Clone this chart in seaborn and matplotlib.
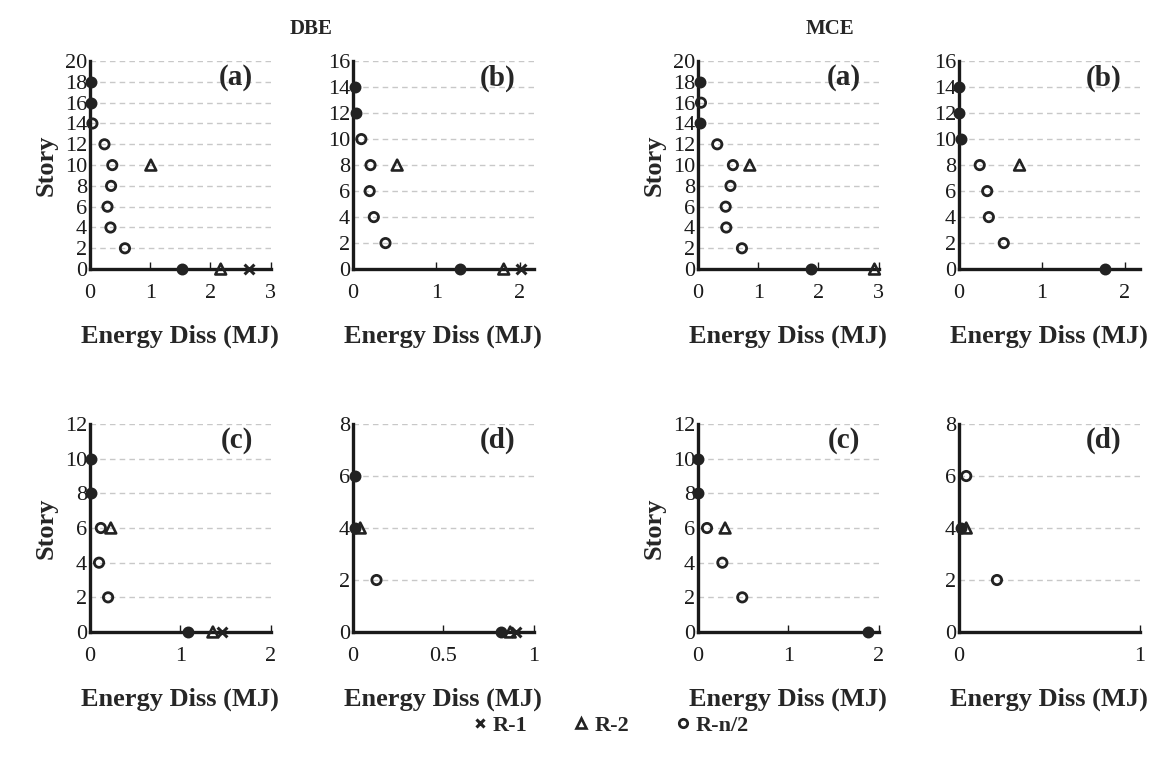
# ------------------
# Module imports
# ------------------
import matplotlib
matplotlib.use('Agg')
import matplotlib.pyplot as plt
from matplotlib.lines import Line2D
import pandas as pd
import seaborn as sns


# ------------------
# Constants
# ------------------
OUT_FILE = 'out.png'

SERIES = ['R-1', 'R-2', 'R-n/2']
PANEL_LABELS = ['(a)', '(b)', '(c)', '(d)']
GROUPS = ['DBE', 'MCE']

# DBE (a)
DBE_A_R1_STORY = [0]
DBE_A_R1 = [2.64]
DBE_A_R2_STORY = [10, 0]
DBE_A_R2 = [1.01, 2.17]
DBE_A_RN2_STORY = [18, 16, 14, 12, 10, 8, 6, 4, 2, 0]
DBE_A_RN2 = [0.02, 0.02, 0.04, 0.24, 0.37, 0.35, 0.29, 0.34, 0.58, 1.53]

# DBE (b)
DBE_B_R1_STORY = [0]
DBE_B_R1 = [2.02]
DBE_B_R2_STORY = [8, 0]
DBE_B_R2 = [0.53, 1.81]
DBE_B_RN2_STORY = [14, 12, 10, 8, 6, 4, 2, 0]
DBE_B_RN2 = [0.02, 0.03, 0.10, 0.21, 0.20, 0.25, 0.39, 1.28]

# DBE (c)
DBE_C_R1_STORY = [0]
DBE_C_R1 = [1.46]
DBE_C_R2_STORY = [6, 0]
DBE_C_R2 = [0.23, 1.36]
DBE_C_RN2_STORY = [10, 8, 6, 4, 2, 0]
DBE_C_RN2 = [0.01, 0.01, 0.12, 0.10, 0.20, 1.09]

# DBE (d)
DBE_D_R1_STORY = [0]
DBE_D_R1 = [0.90]
DBE_D_R2_STORY = [4, 0]
DBE_D_R2 = [0.04, 0.87]
DBE_D_RN2_STORY = [6, 4, 2, 0]
DBE_D_RN2 = [0.01, 0.01, 0.13, 0.82]

# MCE (a)
MCE_A_R1_STORY = []
MCE_A_R1 = []
MCE_A_R2_STORY = [10, 0]
MCE_A_R2 = [0.86, 2.93]
MCE_A_RN2_STORY = [18, 16, 14, 12, 10, 8, 6, 4, 2, 0]
MCE_A_RN2 = [0.03, 0.05, 0.03, 0.32, 0.58, 0.54, 0.46, 0.47, 0.73, 1.88]

# MCE (b)
MCE_B_R1_STORY = []
MCE_B_R1 = []
MCE_B_R2_STORY = [8]
MCE_B_R2 = [0.73]
MCE_B_RN2_STORY = [14, 12, 10, 8, 6, 4, 2, 0]
MCE_B_RN2 = [0.0, 0.0, 0.03, 0.25, 0.34, 0.36, 0.54, 1.76]

# MCE (c)
MCE_C_R1_STORY = []
MCE_C_R1 = []
MCE_C_R2_STORY = [6]
MCE_C_R2 = [0.30]
MCE_C_RN2_STORY = [10, 8, 6, 4, 2, 0]
MCE_C_RN2 = [0.0, 0.0, 0.10, 0.27, 0.49, 1.88]

# MCE (d)
MCE_D_R1_STORY = []
MCE_D_R1 = []
MCE_D_R2_STORY = [4]
MCE_D_R2 = [0.04]
MCE_D_RN2_STORY = [6, 4, 2]
MCE_D_RN2 = [0.04, 0.01, 0.21]

# axes positions [left, bottom, width, height]
COL_LEFT = [0.0782, 0.3067, 0.6064, 0.8332]
COL_WIDTH = 0.157
ROW_BOTTOM = [0.645, 0.1662]
ROW_HEIGHT = 0.2744

TICK_SIZE = 16
LABEL_SIZE = 19


# ------------------
# Functions
# ------------------
def make_df(r1, r1s, r2, r2s, rn, rns):
    """ long-form data for one panel """
    rows = []
    for name, xs, ys in zip(SERIES, [r1, r2, rn], [r1s, r2s, rns]):
        for x, y in zip(xs, ys):
            rows.append({'energy': x, 'story': y, 'series': name})
    return pd.DataFrame(rows, columns=['energy', 'story', 'series'])


def draw_panel(ax, df, axis, label, ylabel):
    ymax, xmax, xticks = axis

    # R-1
    d = df[df['series'] == 'R-1']
    if len(d):
        sns.scatterplot(data=d, x='energy', y='story', ax=ax, marker='x',
                        s=50, color='#222222', linewidth=2.2, clip_on=False, zorder=5)
    # R-2
    d = df[df['series'] == 'R-2']
    if len(d):
        sns.scatterplot(data=d, x='energy', y='story', ax=ax, marker='^',
                        s=60, facecolor='none', edgecolor='#222222', linewidth=1.9,
                        clip_on=False, zorder=5)
    # R-n/2 (points lying on an axis look filled)
    d = df[df['series'] == 'R-n/2']
    on_axis = (d['energy'] <= 0.035) | (d['story'] == 0)
    if on_axis.any():
        sns.scatterplot(data=d[on_axis], x='energy', y='story', ax=ax, marker='o',
                        s=50, color='#222222', edgecolor='#222222', linewidth=1.5,
                        clip_on=False, zorder=5)
    if (~on_axis).any():
        sns.scatterplot(data=d[~on_axis], x='energy', y='story', ax=ax, marker='o',
                        s=45, facecolor='none', edgecolor='#222222', linewidth=2.0,
                        clip_on=False, zorder=5)

    ax.set_xlim(0, xmax)
    ax.set_ylim(0, ymax)
    ax.set_xticks(xticks)
    ax.set_xticklabels([('%g' % t) for t in xticks])
    ax.set_yticks(range(0, ymax + 1, 2))

    ax.yaxis.grid(True, linestyle=(0, (4, 3)), color='#c8c8c8', linewidth=1.0)
    ax.xaxis.grid(False)
    ax.set_axisbelow(True)

    for s in ['top', 'right']:
        ax.spines[s].set_visible(False)
    for s in ['left', 'bottom']:
        ax.spines[s].set_linewidth(2.4)
        ax.spines[s].set_color('#1a1a1a')
        ax.spines[s].set_zorder(4)

    ax.tick_params(axis='x', direction='in', length=5, width=1, labelsize=TICK_SIZE,
                   pad=11, colors='#1a1a1a', bottom=True)
    ax.tick_params(axis='y', direction='in', length=0, labelsize=TICK_SIZE, pad=2,
                   colors='#1a1a1a', left=True)

    ax.set_xlabel('Energy Diss (MJ)', fontsize=LABEL_SIZE, fontweight='bold', labelpad=15)
    if ylabel:
        ax.set_ylabel('Story', fontsize=19, fontweight='bold', labelpad=5)
    else:
        ax.set_ylabel('')

    ax.text(0.90, 0.985, label, transform=ax.transAxes, ha='right', va='top',
            fontsize=21, fontweight='bold')


# ------------------
# Main
# ------------------
def main():
    sns.set_theme(style='white')
    plt.rcParams['font.family'] = ['Liberation Serif', 'DejaVu Serif']

    panels = [
        (make_df(DBE_A_R1, DBE_A_R1_STORY, DBE_A_R2, DBE_A_R2_STORY, DBE_A_RN2, DBE_A_RN2_STORY), (20, 3.0, [0, 1, 2, 3]), 0, 0),
        (make_df(DBE_B_R1, DBE_B_R1_STORY, DBE_B_R2, DBE_B_R2_STORY, DBE_B_RN2, DBE_B_RN2_STORY), (16, 2.17, [0, 1, 2]), 0, 1),
        (make_df(DBE_C_R1, DBE_C_R1_STORY, DBE_C_R2, DBE_C_R2_STORY, DBE_C_RN2, DBE_C_RN2_STORY), (12, 2.0, [0, 1, 2]), 1, 0),
        (make_df(DBE_D_R1, DBE_D_R1_STORY, DBE_D_R2, DBE_D_R2_STORY, DBE_D_RN2, DBE_D_RN2_STORY), (8, 1.0, [0, 0.5, 1]), 1, 1),
        (make_df(MCE_A_R1, MCE_A_R1_STORY, MCE_A_R2, MCE_A_R2_STORY, MCE_A_RN2, MCE_A_RN2_STORY), (20, 3.0, [0, 1, 2, 3]), 0, 2),
        (make_df(MCE_B_R1, MCE_B_R1_STORY, MCE_B_R2, MCE_B_R2_STORY, MCE_B_RN2, MCE_B_RN2_STORY), (16, 2.18, [0, 1, 2]), 0, 3),
        (make_df(MCE_C_R1, MCE_C_R1_STORY, MCE_C_R2, MCE_C_R2_STORY, MCE_C_RN2, MCE_C_RN2_STORY), (12, 2.0, [0, 1, 2]), 1, 2),
        (make_df(MCE_D_R1, MCE_D_R1_STORY, MCE_D_R2, MCE_D_R2_STORY, MCE_D_RN2, MCE_D_RN2_STORY), (8, 1.0, [0, 1]), 1, 3),
    ]

    fig = plt.figure(figsize=(11.51, 7.58), dpi=100)
    for df, axis, row, col in panels:
        ax = fig.add_axes([COL_LEFT[col], ROW_BOTTOM[row], COL_WIDTH, ROW_HEIGHT])
        label = PANEL_LABELS[row * 2 + col % 2]
        draw_panel(ax, df, axis, label, ylabel=(col % 2 == 0))

    # group titles
    fig.text(0.270, 0.962, GROUPS[0], ha='center', va='center', fontsize=15, fontweight='bold')
    fig.text(0.721, 0.962, GROUPS[1], ha='center', va='center', fontsize=15, fontweight='bold')

    # legend
    handles = [
        Line2D([], [], marker='x', color='#222222', linestyle='none', markersize=6, markeredgewidth=2.2),
        Line2D([], [], marker='^', color='#222222', markerfacecolor='none', linestyle='none',
               markersize=7, markeredgewidth=1.9),
        Line2D([], [], marker='o', color='#222222', markerfacecolor='none', linestyle='none',
               markersize=6, markeredgewidth=2.0),
    ]
    fig.legend(handles, SERIES, loc='center', bbox_to_anchor=(0.528, 0.043), ncol=3,
               frameon=False, handletextpad=0.0, columnspacing=1.8, handlelength=1.2,
               prop={'weight': 'bold', 'size': 16})

    fig.savefig(OUT_FILE, dpi=100)


if __name__ == '__main__':
    main()
